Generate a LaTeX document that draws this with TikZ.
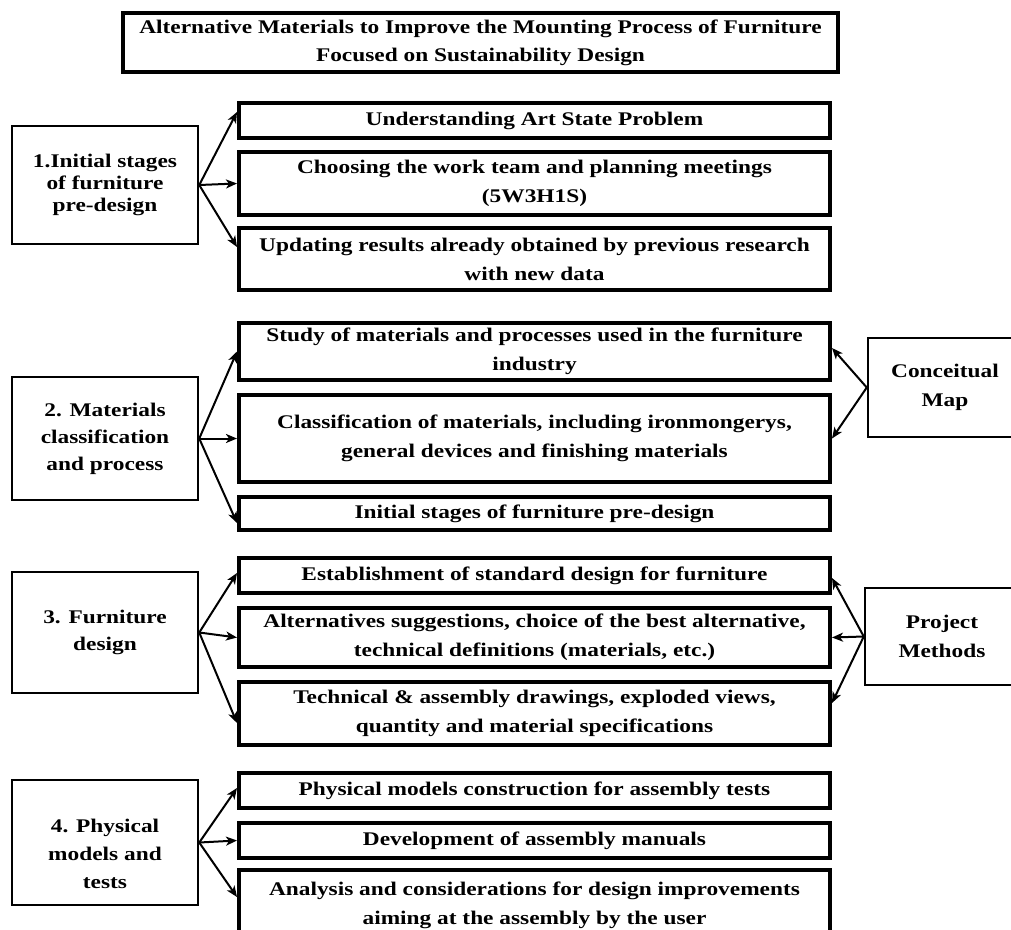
\documentclass[tikz,border=0pt]{standalone}
\usepackage{fontspec}
\setmainfont{Liberation Serif}[FakeStretch=1.21]
\usetikzlibrary{arrows.meta,calc}
\begin{document}
\begin{tikzpicture}[x=1pt,y=-1pt,
  txt/.style={font=\bfseries\fontsize{19.3}{29}\selectfont,align=center,inner sep=0pt},
  titlebox/.style={txt,draw,line width=4pt,minimum width=715pt,minimum height=59pt,font=\bfseries\fontsize{19.3}{28}\selectfont},
  rbox/.style={txt,draw,line width=4pt,minimum width=591pt},
  lbox/.style={txt,draw,line width=2.5pt,minimum width=186pt,font=\bfseries\fontsize{19.3}{27}\selectfont},
  sbox/.style={txt,draw,line width=2.5pt},
  arr/.style={line width=2pt,-{Stealth[length=11pt,width=9pt,inset=3pt]}}]
\useasboundingbox (0,0) rectangle (1011,929);

% title
\node[titlebox] (title) at (480.5,42.5) {Alternative Materials to Improve the Mounting Process of Furniture\\Focused on Sustainability Design};

% section 1
\node[lbox,minimum height=118pt,font=\bfseries\fontsize{19.3}{22}\selectfont] (l1) at (105,185) {1.Initial stages\\of furniture\\pre-design};
\node[rbox,minimum height=35pt] (r1a) at (534.5,120.5) {Understanding Art State Problem};
\node[rbox,minimum height=63pt] (r1b) at (534.5,183.5) {Choosing the work team and planning meetings\\(5W3H1S)};
\node[rbox,minimum height=62pt] (r1c) at (534.5,259) {Updating results already obtained by previous research\\with new data};
\draw[arr] (l1.east) -- ([yshift=8.5pt]r1a.west);
\draw[arr] (l1.east) -- (r1b.west);
\draw[arr] (l1.east) -- ([yshift=12pt]r1c.west);

% section 2
\node[lbox,minimum height=123pt] (l2) at (105,438.5) {2. Materials\\classification\\and process};
\node[rbox,minimum height=57pt] (r2a) at (534.5,351.5) {Study of materials and processes used in the furniture\\industry};
\node[rbox,minimum height=87pt] (r2b) at (534.5,438.5) {Classification of materials, including ironmongerys,\\general devices and finishing materials};
\node[rbox,minimum height=33pt] (r2c) at (534.5,513.5) {Initial stages of furniture pre-design};
\draw[arr] (l2.east) -- (r2a.west);
\draw[arr] (l2.east) -- (r2b.west);
\draw[arr] (l2.east) -- ([yshift=-9.5pt]r2c.west);
\node[sbox,minimum width=182pt,minimum height=99pt] (cm) at (959,387.5) {};
\node[txt] (cmt) at (945,387.5) {Conceitual\\Map};
\draw[arr] (cm.west) -- ([yshift=3.5pt]r2a.east);
\draw[arr] (cm.west) -- (r2b.east);

% section 3
\node[lbox,minimum height=121pt] (l3) at (105,632.5) {3. Furniture\\design};
\node[rbox,minimum height=35pt] (r3a) at (534.5,575.5) {Establishment of standard design for furniture};
\node[rbox,minimum height=59pt] (r3b) at (534.5,637.5) {Alternatives suggestions, choice of the best alternative,\\technical definitions (materials, etc.)};
\node[rbox,minimum height=63pt] (r3c) at (534.5,713.5) {Technical \& assembly drawings, exploded views,\\quantity and material specifications};
\draw[arr] (l3.east) -- ([yshift=2.5pt]r3a.west);
\draw[arr] (l3.east) -- (r3b.west);
\draw[arr] (l3.east) -- ([yshift=-9.5pt]r3c.west);
\node[sbox,minimum width=185pt,minimum height=97pt] (pm) at (957.5,636.5) {};
\node[txt] (pmt) at (942,636.5) {Project\\Methods};
\draw[arr] (pm.west) -- ([yshift=-2.5pt]r3a.east);
\draw[arr] (pm.west) -- (r3b.east);
\draw[arr] (pm.west) -- ([yshift=10.5pt]r3c.east);

% section 4
\node[lbox,minimum height=125pt] (l4) at (105,842.5) {};
\node[txt,font=\bfseries\fontsize{19.3}{28}\selectfont] (l4t) at ([yshift=-11pt]l4.center) {4. Physical\\models and\\tests};
\node[rbox,minimum height=35pt] (r4a) at (534.5,790.5) {Physical models construction for assembly tests};
\node[rbox,minimum height=35pt] (r4b) at (534.5,840.5) {Development of assembly manuals};
\node[rbox,minimum height=70pt] (r4c) at (534.5,905) {Analysis and considerations for design improvements\\aiming at the assembly by the user};
\draw[arr] (l4.east) -- ([yshift=2.5pt]r4a.west);
\draw[arr] (l4.east) -- (r4b.west);
\draw[arr] (l4.east) -- ([yshift=8pt]r4c.west);
\end{tikzpicture}
\end{document}
